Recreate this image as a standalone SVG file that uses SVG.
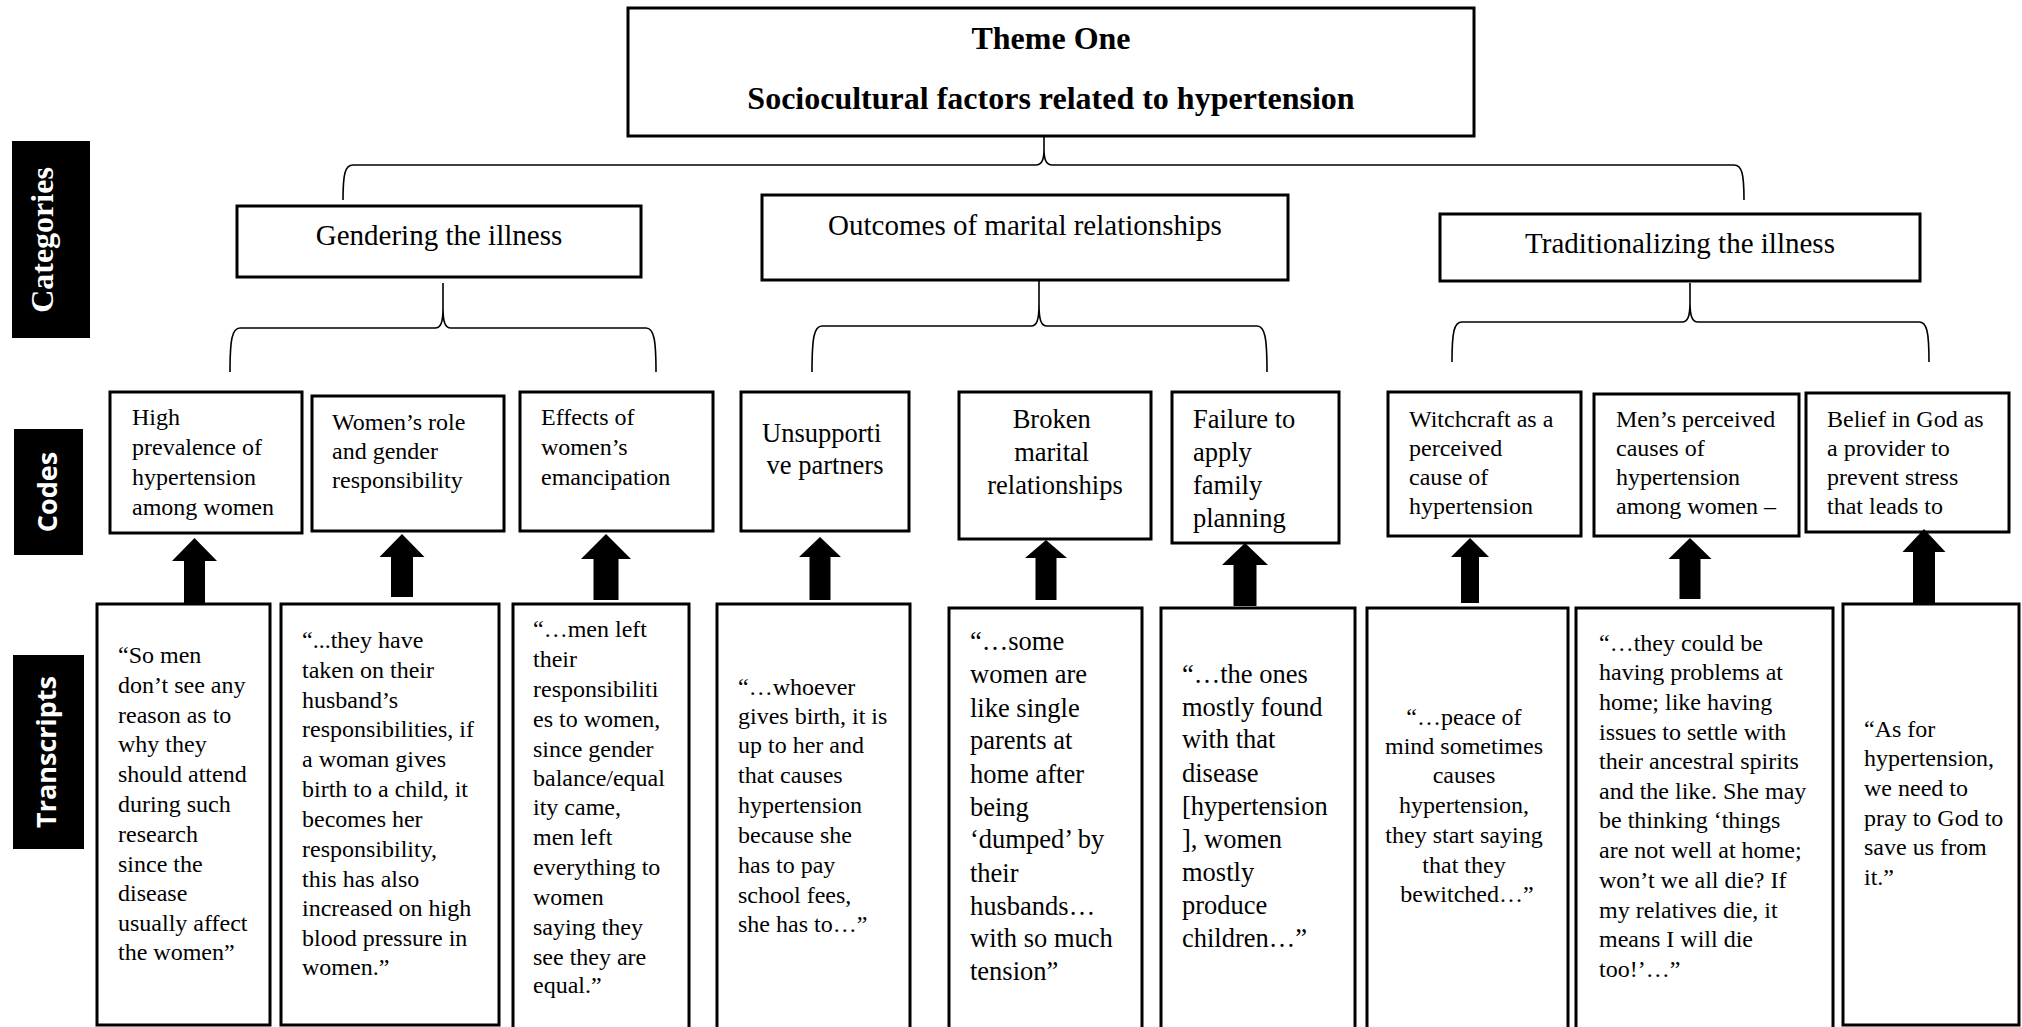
<svg xmlns="http://www.w3.org/2000/svg" width="2022" height="1027" viewBox="0 0 2022 1027">
  <style>
    .box { fill: #fff; stroke: #000; stroke-width: 3; }
    .serif { font-family: "Liberation Serif", "Times New Roman", serif; fill: #000; }
    .title { font-size: 32px; font-weight: bold; text-anchor: middle; }
    .cat { font-size: 29px; text-anchor: middle; }
    .s24 { font-size: 24px; }
    .s26 { font-size: 26.5px; }
    .mid { text-anchor: middle; }
    .brace { fill: none; stroke: #000; stroke-width: 1.6; }
    .arrow { fill: #000; }
    .tag { fill: #000; }
    .tagtext { fill: #fff; font-weight: bold; text-anchor: middle; }
    .tag-serif { font-family: "Liberation Serif", "Times New Roman", serif; font-size: 32px; }
    .tag-sans { font-family: "Open Sans", "Noto Sans", sans-serif; font-size: 27px; }
  </style>

  <!-- row labels -->
  <g id="label-categories">
    <rect class="tag" x="12" y="141" width="78" height="197"/>
    <text class="tagtext tag-serif" transform="translate(53,240) rotate(-90)">Categories</text>
  </g>
  <g id="label-codes">
    <rect class="tag" x="14" y="429" width="69" height="126"/>
    <text class="tagtext tag-sans" transform="translate(57,492) rotate(-90)">Codes</text>
  </g>
  <g id="label-transcripts">
    <rect class="tag" x="13" y="655" width="71" height="194"/>
    <text class="tagtext tag-sans" transform="translate(56,752) rotate(-90)">Transcripts</text>
  </g>

  <!-- theme -->
  <g id="theme">
    <rect class="box" x="628" y="8" width="846" height="128"/>
    <text class="serif title" x="1051" y="49">Theme One</text>
    <text class="serif title" x="1051" y="109">Sociocultural factors related to hypertension</text>
  </g>

  <!-- categories -->
  <g id="cat-gendering">
    <rect class="box" x="237" y="206" width="404" height="71"/>
    <text class="serif cat" x="439" y="245">Gendering the illness</text>
  </g>
  <g id="cat-marital">
    <rect class="box" x="762" y="195" width="526" height="85"/>
    <text class="serif cat" x="1025" y="235">Outcomes of marital relationships</text>
  </g>
  <g id="cat-traditional">
    <rect class="box" x="1440" y="214" width="480" height="67"/>
    <text class="serif cat" x="1680" y="253">Traditionalizing the illness</text>
  </g>

  <!-- codes -->
  <g id="code-prevalence">
    <rect class="box" x="110" y="392" width="192" height="141"/>
    <text class="serif s24">
      <tspan x="132" y="425">High</tspan>
      <tspan x="132" y="455">prevalence of</tspan>
      <tspan x="132" y="485">hypertension</tspan>
      <tspan x="132" y="515">among women</tspan>
    </text>
  </g>
  <g id="code-role">
    <rect class="box" x="312" y="396" width="192" height="135"/>
    <text class="serif s24">
      <tspan x="332" y="430">Women’s role</tspan>
      <tspan x="332" y="459">and gender</tspan>
      <tspan x="332" y="488">responsibility</tspan>
    </text>
  </g>
  <g id="code-emancipation">
    <rect class="box" x="520" y="392" width="193" height="139"/>
    <text class="serif s24">
      <tspan x="541" y="425">Effects of</tspan>
      <tspan x="541" y="455">women’s</tspan>
      <tspan x="541" y="485">emancipation</tspan>
    </text>
  </g>
  <g id="code-unsupportive">
    <rect class="box" x="741" y="392" width="168" height="139"/>
    <text class="serif s26 mid">
      <tspan x="825" y="442">Unsupporti</tspan>
      <tspan x="825" y="474">ve partners</tspan>
    </text>
  </g>
  <g id="code-broken">
    <rect class="box" x="959" y="392" width="192" height="147"/>
    <text class="serif s26 mid">
      <tspan x="1055" y="428">Broken</tspan>
      <tspan x="1055" y="461">marital</tspan>
      <tspan x="1055" y="494">relationships</tspan>
    </text>
  </g>
  <g id="code-family-planning">
    <rect class="box" x="1172" y="392" width="167" height="151"/>
    <text class="serif s26">
      <tspan x="1193" y="428">Failure to</tspan>
      <tspan x="1193" y="461">apply</tspan>
      <tspan x="1193" y="494">family</tspan>
      <tspan x="1193" y="527">planning</tspan>
    </text>
  </g>
  <g id="code-witchcraft">
    <rect class="box" x="1388" y="392" width="193" height="144"/>
    <text class="serif s24">
      <tspan x="1409" y="427">Witchcraft as a</tspan>
      <tspan x="1409" y="456">perceived</tspan>
      <tspan x="1409" y="485">cause of</tspan>
      <tspan x="1409" y="514">hypertension</tspan>
    </text>
  </g>
  <g id="code-mens-causes">
    <rect class="box" x="1594" y="394" width="205" height="142"/>
    <text class="serif s24">
      <tspan x="1616" y="427">Men’s perceived</tspan>
      <tspan x="1616" y="456">causes of</tspan>
      <tspan x="1616" y="485">hypertension</tspan>
      <tspan x="1616" y="514">among women –</tspan>
    </text>
  </g>
  <g id="code-belief">
    <rect class="box" x="1806" y="393" width="203" height="139"/>
    <text class="serif s24">
      <tspan x="1827" y="427">Belief in God as</tspan>
      <tspan x="1827" y="456">a provider to</tspan>
      <tspan x="1827" y="485">prevent stress</tspan>
      <tspan x="1827" y="514">that leads to</tspan>
    </text>
  </g>

  <!-- transcripts -->
  <g id="quote-1">
    <rect class="box" x="97" y="604" width="173" height="421"/>
    <text class="serif s24">
      <tspan x="118" y="663">“So men</tspan>
      <tspan x="118" y="693">don’t see any</tspan>
      <tspan x="118" y="723">reason as to</tspan>
      <tspan x="118" y="752">why they</tspan>
      <tspan x="118" y="782">should attend</tspan>
      <tspan x="118" y="812">during such</tspan>
      <tspan x="118" y="842">research</tspan>
      <tspan x="118" y="872">since the</tspan>
      <tspan x="118" y="901">disease</tspan>
      <tspan x="118" y="931">usually affect</tspan>
      <tspan x="118" y="960">the women”</tspan>
    </text>
  </g>
  <g id="quote-2">
    <rect class="box" x="281" y="604" width="218" height="421"/>
    <text class="serif s24">
      <tspan x="302" y="648">“...they have</tspan>
      <tspan x="302" y="678">taken on their</tspan>
      <tspan x="302" y="708">husband’s</tspan>
      <tspan x="302" y="737">responsibilities, if</tspan>
      <tspan x="302" y="767">a woman gives</tspan>
      <tspan x="302" y="797">birth to a child, it</tspan>
      <tspan x="302" y="827">becomes her</tspan>
      <tspan x="302" y="857">responsibility,</tspan>
      <tspan x="302" y="887">this has also</tspan>
      <tspan x="302" y="916">increased on high</tspan>
      <tspan x="302" y="946">blood pressure in</tspan>
      <tspan x="302" y="975">women.”</tspan>
    </text>
  </g>
  <g id="quote-3">
    <rect class="box" x="513" y="604" width="176" height="430"/>
    <text class="serif s24">
      <tspan x="533" y="637">“…men left</tspan>
      <tspan x="533" y="667">their</tspan>
      <tspan x="533" y="697">responsibiliti</tspan>
      <tspan x="533" y="727">es to women,</tspan>
      <tspan x="533" y="757">since gender</tspan>
      <tspan x="533" y="786">balance/equal</tspan>
      <tspan x="533" y="815">ity came,</tspan>
      <tspan x="533" y="845">men left</tspan>
      <tspan x="533" y="875">everything to</tspan>
      <tspan x="533" y="905">women</tspan>
      <tspan x="533" y="935">saying they</tspan>
      <tspan x="533" y="965">see they are</tspan>
      <tspan x="533" y="993">equal.”</tspan>
    </text>
  </g>
  <g id="quote-4">
    <rect class="box" x="717" y="604" width="193" height="430"/>
    <text class="serif s24">
      <tspan x="738" y="695">“…whoever</tspan>
      <tspan x="738" y="724">gives birth, it is</tspan>
      <tspan x="738" y="753">up to her and</tspan>
      <tspan x="738" y="783">that causes</tspan>
      <tspan x="738" y="813">hypertension</tspan>
      <tspan x="738" y="843">because she</tspan>
      <tspan x="738" y="873">has to pay</tspan>
      <tspan x="738" y="903">school fees,</tspan>
      <tspan x="738" y="932">she has to…”</tspan>
    </text>
  </g>
  <g id="quote-5">
    <rect class="box" x="949" y="608" width="193" height="426"/>
    <text class="serif s26">
      <tspan x="970" y="650">“…some</tspan>
      <tspan x="970" y="683">women are</tspan>
      <tspan x="970" y="717">like single</tspan>
      <tspan x="970" y="749">parents at</tspan>
      <tspan x="970" y="783">home after</tspan>
      <tspan x="970" y="816">being</tspan>
      <tspan x="970" y="848">‘dumped’ by</tspan>
      <tspan x="970" y="882">their</tspan>
      <tspan x="970" y="915">husbands…</tspan>
      <tspan x="970" y="947">with so much</tspan>
      <tspan x="970" y="980">tension”</tspan>
    </text>
  </g>
  <g id="quote-6">
    <rect class="box" x="1161" y="608" width="194" height="426"/>
    <text class="serif s26">
      <tspan x="1182" y="683">“…the ones</tspan>
      <tspan x="1182" y="716">mostly found</tspan>
      <tspan x="1182" y="748">with that</tspan>
      <tspan x="1182" y="782">disease</tspan>
      <tspan x="1182" y="815">[hypertension</tspan>
      <tspan x="1182" y="848">], women</tspan>
      <tspan x="1182" y="881">mostly</tspan>
      <tspan x="1182" y="914">produce</tspan>
      <tspan x="1182" y="947">children…”</tspan>
    </text>
  </g>
  <g id="quote-7">
    <rect class="box" x="1367" y="608" width="201" height="426"/>
    <text class="serif s24 mid">
      <tspan x="1467" y="725">“…peace of</tspan>
      <tspan x="1467" y="754">mind sometimes</tspan>
      <tspan x="1467" y="783">causes</tspan>
      <tspan x="1467" y="813">hypertension,</tspan>
      <tspan x="1467" y="843">they start saying</tspan>
      <tspan x="1467" y="873">that they</tspan>
      <tspan x="1467" y="902">bewitched…”</tspan>
    </text>
  </g>
  <g id="quote-8">
    <rect class="box" x="1576" y="608" width="257" height="426"/>
    <text class="serif s24">
      <tspan x="1599" y="651">“…they could be</tspan>
      <tspan x="1599" y="680">having problems at</tspan>
      <tspan x="1599" y="710">home; like having</tspan>
      <tspan x="1599" y="740">issues to settle with</tspan>
      <tspan x="1599" y="769">their ancestral spirits</tspan>
      <tspan x="1599" y="799">and the like. She may</tspan>
      <tspan x="1599" y="828">be thinking ‘things</tspan>
      <tspan x="1599" y="858">are not well at home;</tspan>
      <tspan x="1599" y="888">won’t we all die? If</tspan>
      <tspan x="1599" y="918">my relatives die, it</tspan>
      <tspan x="1599" y="947">means I will die</tspan>
      <tspan x="1599" y="977">too!’…”</tspan>
    </text>
  </g>
  <g id="quote-9">
    <rect class="box" x="1843" y="604" width="176" height="421"/>
    <text class="serif s24">
      <tspan x="1864" y="737">“As for</tspan>
      <tspan x="1864" y="766">hypertension,</tspan>
      <tspan x="1864" y="796">we need to</tspan>
      <tspan x="1864" y="826">pray to God to</tspan>
      <tspan x="1864" y="855">save us from</tspan>
      <tspan x="1864" y="885">it.”</tspan>
    </text>
  </g>

  <!-- connectors: braces from each parent, block arrows from quotes up to codes -->
  <g id="connectors">
    <path class="brace" d="M343,200 C343,174 345,165 353,165 L1036,165 C1042,165 1044,160 1044,150 L1044,136 M1044,150 C1044,160 1046,165 1052,165 L1734,165 C1742,165 1744,174 1744,200"/>
    <path class="brace" d="M230,372 C230,340 232,328 240,328 L435,328 C441,328 443,322 443,308 L443,283 M443,308 C443,322 445,328 451,328 L646,328 C654,328 656,340 656,372"/>
    <path class="brace" d="M812,372 C812,338 814,326 822,326 L1031,326 C1037,326 1039,320 1039,304 L1039,280 M1039,304 C1039,320 1041,326 1047,326 L1257,326 C1265,326 1267,338 1267,372"/>
    <path class="brace" d="M1452,362 C1452,332 1454,322 1462,322 L1682,322 C1688,322 1690,316 1690,302 L1690,283 M1690,302 C1690,316 1692,322 1698,322 L1919,322 C1927,322 1929,332 1929,362"/>

    <polygon class="arrow" points="194.5,538 217,561 205,561 205,604 184,604 184,561 172,561"/>
    <polygon class="arrow" points="402,534 424.5,557 413,557 413,597 391,597 391,557 379.5,557"/>
    <polygon class="arrow" points="606,534 631,559 618.5,559 618.5,600 593.5,600 593.5,559 581,559"/>
    <polygon class="arrow" points="820,537 841,557 830.5,557 830.5,600 809.5,600 809.5,557 799,557"/>
    <polygon class="arrow" points="1046,540 1067,558 1056.5,558 1056.5,600 1035.5,600 1035.5,558 1025,558"/>
    <polygon class="arrow" points="1245,543 1268,565 1256.5,565 1256.5,606 1233.5,606 1233.5,565 1222,565"/>
    <polygon class="arrow" points="1470,538 1489,557 1479,557 1479,603 1461,603 1461,557 1451,557"/>
    <polygon class="arrow" points="1690,538 1711.5,559 1700.5,559 1700.5,599 1679.5,599 1679.5,559 1668.5,559"/>
    <polygon class="arrow" points="1924,529 1945.5,552 1935,552 1935,605 1913,605 1913,552 1902.5,552"/>
  </g>
</svg>
